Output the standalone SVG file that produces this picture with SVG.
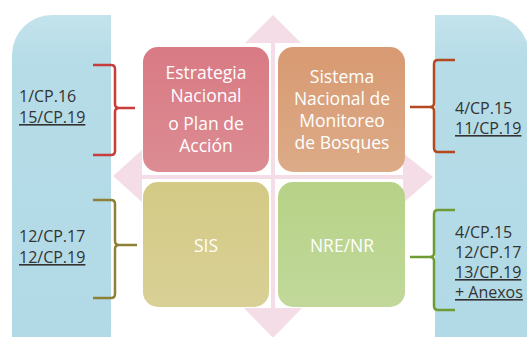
<svg xmlns="http://www.w3.org/2000/svg" width="527" height="337" viewBox="0 0 527 337">
<defs>
<linearGradient id="gPanel" x1="0" y1="0" x2="0" y2="1">
<stop offset="0" stop-color="#c4e3ec"/>
<stop offset="0.15" stop-color="#b5dce7"/>
<stop offset="1" stop-color="#b2dae6"/>
</linearGradient>
<linearGradient id="gRed" x1="0" y1="0" x2="0" y2="1">
<stop offset="0" stop-color="#d97a84"/>
<stop offset="1" stop-color="#dc8c93"/>
</linearGradient>
<linearGradient id="gTan" x1="0" y1="0" x2="0" y2="1">
<stop offset="0" stop-color="#d89a72"/>
<stop offset="1" stop-color="#dcab87"/>
</linearGradient>
<linearGradient id="gOlive" x1="0" y1="0" x2="0" y2="1">
<stop offset="0" stop-color="#d4ca86"/>
<stop offset="1" stop-color="#d8d095"/>
</linearGradient>
<linearGradient id="gGreen" x1="0" y1="0" x2="0" y2="1">
<stop offset="0" stop-color="#b7d287"/>
<stop offset="1" stop-color="#c1d89a"/>
</linearGradient>
</defs>
<style>
.side{font-family:"Open Sans","DejaVu Sans",sans-serif;font-size:16px;fill:#333333}
.u{text-decoration:underline}
.box{font-family:"Open Sans","DejaVu Sans",sans-serif;font-size:17.5px;fill:#ffffff;text-anchor:middle}
.arrow{fill:#f4dde6}
.brace{fill:none;stroke-width:2.5;stroke-linejoin:round}
</style>
<rect width="527" height="337" fill="#ffffff"/>

<g id="panel-left">
<path d="M111,15 H52 A40,40 0 0 0 12,55 V345 H111 Z" fill="url(#gPanel)"/>
<text class="side" x="19" y="102">1/CP.16</text>
<text class="side u" x="19" y="123">15/CP.19</text>
<text class="side" x="19" y="242">12/CP.17</text>
<text class="side u" x="19" y="263">12/CP.19</text>
</g>

<g id="panel-right">
<path d="M435,15 H489 A40,40 0 0 1 529,55 V345 H435 Z" fill="url(#gPanel)"/>
<text class="side" x="455" y="114">4/CP.15</text>
<text class="side u" x="455" y="134">11/CP.19</text>
<text class="side" x="455" y="238">4/CP.15</text>
<text class="side" x="455" y="258">12/CP.17</text>
<text class="side u" x="455" y="278">13/CP.19</text>
<text class="side u" x="455" y="298">+ Anexos</text>
</g>

<g id="cross-arrows">
<rect class="arrow" x="271" y="40" width="4" height="272"/>
<rect class="arrow" x="139" y="175" width="266" height="4"/>
<polygon class="arrow" points="273,15 245,43 301,43"/>
<polygon class="arrow" points="273,338 244,308 302,308"/>
<polygon class="arrow" points="113,176 142,150 142,202"/>
<polygon class="arrow" points="433,177 403,153 403,203"/>
</g>

<g id="connectors">
<path class="brace" stroke="#c83c3c" d="M93,65 H111 Q115,65 115,69 V104 Q115,108 119,108 H135 M119,108 Q115,108 115,112 V151 Q115,155 111,155 H93"/>
<path class="brace" stroke="#8f8038" d="M93,200 H111 Q115,200 115,204 V241 Q115,245 119,245 H137 M119,245 Q115,245 115,249 V294 Q115,298 111,298 H93"/>
<path class="brace" stroke="#b4481f" d="M455,60 H438 Q434,60 434,64 V103 Q434,107 430,107 H410 M430,107 Q434,107 434,111 V148 Q434,152 438,152 H455"/>
<path class="brace" stroke="#6e9b33" d="M455,210 H438 Q434,210 434,214 V253 Q434,257 430,257 H410 M430,257 Q434,257 434,261 V306 Q434,310 438,310 H455"/>
</g>

<g id="node-estrategia">
<rect x="143" y="47" width="126" height="125" rx="15" fill="url(#gRed)"/>
<text class="box" x="206" y="79">Estrategia</text>
<text class="box" x="206" y="102">Nacional</text>
<text class="box" x="206" y="130">o Plan de</text>
<text class="box" x="206" y="152">Acción</text>
</g>

<g id="node-sistema">
<rect x="278" y="47" width="127" height="125" rx="15" fill="url(#gTan)"/>
<text class="box" x="342" y="83">Sistema</text>
<text class="box" x="342" y="105">Nacional de</text>
<text class="box" x="342" y="127">Monitoreo</text>
<text class="box" x="342" y="149">de Bosques</text>
</g>

<g id="node-sis">
<rect x="143" y="182" width="126" height="125" rx="15" fill="url(#gOlive)"/>
<text class="box" x="206" y="252">SIS</text>
</g>

<g id="node-nre">
<rect x="278" y="182" width="127" height="125" rx="15" fill="url(#gGreen)"/>
<text class="box" x="342" y="252">NRE/NR</text>
</g>
</svg>
